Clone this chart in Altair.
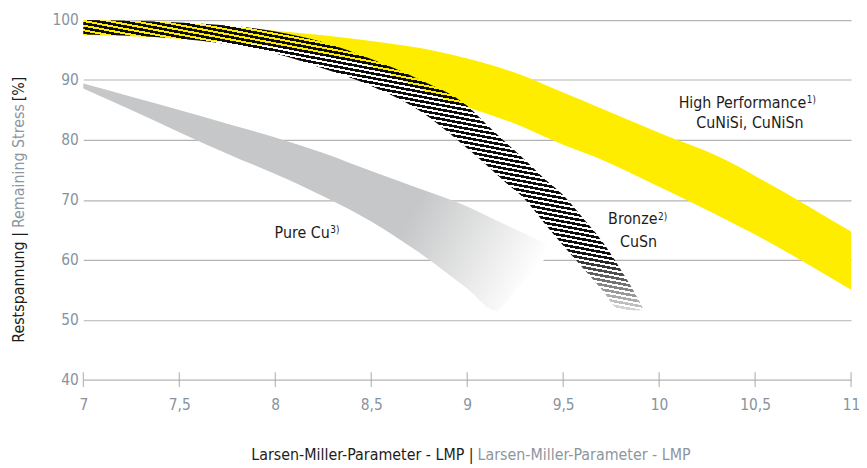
import altair as alt
import pandas as pd

# ---------------- data ----------------
lmp_ticks = [7, 7.5, 8, 8.5, 9, 9.5, 10, 10.5, 11]
stress_ticks = [40, 50, 60, 70, 80, 90, 100]

# High Performance (CuNiSi, CuNiSn) band
hp_x =     [7.0, 7.5, 8.0, 8.5, 8.84, 9.0, 9.25, 9.5, 9.665, 10.0, 10.35, 10.5, 11.0]
hp_upper = [100, 99.5, 98.2, 96.5, 94.8, 93.6, 91.2, 87.9, 85.7, 81.2, 76.6, 74.0, 64.7]
hp_lower = [97.5, 96.9, 95.5, 92.3, 87.3, 85.5, 82.7, 79.2, 77.2, 72.2, 66.7, 64.2, 55.0]

# Bronze (CuSn) band
br_x =     [7.0, 7.5, 8.0, 8.25, 8.5, 8.75, 9.0, 9.1, 9.2, 9.3, 9.4, 9.5, 9.6, 9.7, 9.8, 9.9, 9.92]
br_upper = [100, 99.6, 98.1, 96.3, 93.5, 90.1, 85.7, 82.6, 79.6, 76.7, 73.6, 70.8, 67.1, 63.2, 58.4, 52.9, 51.6]
br_lower = [97.6, 96.9, 94.4, 91.9, 89.0, 84.9, 78.6, 75.8, 72.9, 70.1, 66.2, 62.4, 58.7, 55.1, 51.6, 51.6, 51.6]

# Pure Cu band
cu_x =     [7.0, 7.25, 7.5, 7.75, 8.0, 8.25, 8.5, 8.75, 9.0, 9.15, 9.25, 9.46]
cu_upper = [89.4, 87.2, 85.0, 82.7, 80.4, 77.8, 74.8, 71.9, 68.9, 66.6, 65.1, 62.0]
cu_lower = [88.6, 85.0, 81.3, 77.7, 74.3, 70.6, 66.4, 61.2, 55.2, 51.5, 54.9, 62.0]

# annotations (data coordinates)
right_text = ["High Performance", "Bronze", "Pure Cu"]
right_x = [10.766, 9.991, 8.284]
right_y = [85.4, 65.9, 63.7]
center_text = ["CuNiSi, CuNiSn", "CuSn"]
center_x = [10.473, 9.893]
center_y = [82.0, 62.2]
sup_text = ["1)", "2)", "3)"]
sup_x = [10.769, 9.994, 8.287]
sup_y = [86.1, 66.6, 64.4]

y_title_parts = ["Restspannung |", "Remaining Stress", "[%]"]
x_title_parts = ["Larsen-Miller-Parameter - LMP |", "Larsen-Miller-Parameter - LMP"]

# ---------------- styling ----------------
FONT = "DejaVu Sans Condensed, DejaVu Sans, sans-serif"
YELLOW = "#ffed00"
GRAYBAND = "#c6c7c8"
GRID = "#b3b3b3"
LABEL = "#8793a0"
TEXT = "#1d1d1b"
SUBTEXT = "#8c969f"
FS = 16

W, H = 775, 363

xenc = alt.X("x:Q", scale=alt.Scale(domain=[7, 11], nice=False, zero=False),
             axis=alt.Axis(values=lmp_ticks, title=None, grid=False, domain=False, ticks=False,
                           labelExpr="replace(format(datum.value, '~g'), '.', ',')",
                           labelPadding=18, labelFontSize=15.5, labelColor=LABEL, labelFont=FONT,
                           labelFlush=False))
yenc = alt.Y("y:Q", scale=alt.Scale(domain=[40, 100], nice=False, zero=False),
             axis=alt.Axis(values=stress_ticks, title=None, grid=True, gridColor=GRID, gridWidth=1.2,
                           domain=False, ticks=False, labelPadding=5, labelFontSize=15.5,
                           labelColor=LABEL, labelFont=FONT, labelFlush=False))

hp_df = pd.DataFrame({"x": hp_x, "y": hp_upper, "y2": hp_lower})
br_df = pd.DataFrame({"x": br_x, "y": br_upper, "y2": br_lower})
cu_df = pd.DataFrame({"x": cu_x, "y": cu_upper, "y2": cu_lower})

# gray band fading to white
cu_grad = alt.Gradient(gradient="linear", x1=0, y1=0, x2=1.1, y2=0.29, stops=[
    alt.GradientStop(offset=0, color=GRAYBAND),
    alt.GradientStop(offset=0.72, color=GRAYBAND),
    alt.GradientStop(offset=1, color="#ffffff"),
])

# hatch stripes as a hard-stop gradient
N = 46
FRAC = 0.56
stops = []
for i in range(N):
    a = i / N
    b = (i + FRAC) / N
    c = (i + 1) / N
    t = (a + b) / 2
    if t < 0.76:
        col = "#0d0d0d"
    else:
        f = min(1.0, (t - 0.76) / 0.24)
        g = int(13 + f * (225 - 13))
        col = "#%02x%02x%02x" % (g, g, g)
    clear = "rgba(255,255,255,0)"
    stops += [alt.GradientStop(offset=round(a, 5), color=col),
              alt.GradientStop(offset=round(b, 5), color=col),
              alt.GradientStop(offset=round(b, 5), color=clear),
              alt.GradientStop(offset=round(c, 5), color=clear)]
br_grad = alt.Gradient(gradient="linear", x1=0, y1=-0.09, x2=-0.239, y2=0.562, stops=stops)

cu = alt.Chart(cu_df).mark_area(color=cu_grad, interpolate="monotone").encode(x=xenc, y=yenc, y2="y2:Q")
br_white = alt.Chart(br_df).mark_area(color="#ffffff", interpolate="monotone").encode(x=xenc, y=yenc, y2="y2:Q")
hp = alt.Chart(hp_df).mark_area(color=YELLOW, interpolate="monotone").encode(x=xenc, y=yenc, y2="y2:Q")
br = alt.Chart(br_df).mark_area(color=br_grad, interpolate="monotone").encode(x=xenc, y=yenc, y2="y2:Q")

ticks = alt.Chart(pd.DataFrame({"x": lmp_ticks})).mark_tick(
    orient="vertical", size=15, thickness=1, color="#a9a9a9", opacity=1
).encode(x=xenc, y=alt.datum(40))

tr = alt.Chart(pd.DataFrame({"x": right_x, "y": right_y, "t": right_text})).mark_text(
    align="right", baseline="alphabetic", font=FONT, fontSize=FS, color=TEXT
).encode(x=xenc, y=yenc, text="t:N")
tc = alt.Chart(pd.DataFrame({"x": center_x, "y": center_y, "t": center_text})).mark_text(
    align="center", baseline="alphabetic", font=FONT, fontSize=FS, color=TEXT
).encode(x=xenc, y=yenc, text="t:N")
ts = alt.Chart(pd.DataFrame({"x": sup_x, "y": sup_y, "t": sup_text})).mark_text(
    align="left", baseline="alphabetic", font=FONT, fontSize=10, color=TEXT
).encode(x=xenc, y=yenc, text="t:N")

one = pd.DataFrame({"a": [0]})
yt1 = alt.Chart(one).mark_text(text=y_title_parts[0], angle=270, align="right", baseline="middle",
                               font=FONT, fontSize=FS, color=TEXT).encode(x=alt.value(-64.5), y=alt.value(214))
yt2 = alt.Chart(one).mark_text(text=y_title_parts[1], angle=270, align="left", baseline="middle",
                               font=FONT, fontSize=FS, color=SUBTEXT).encode(x=alt.value(-64.5), y=alt.value(210))
yt3 = alt.Chart(one).mark_text(text=y_title_parts[2], angle=270, align="left", baseline="middle",
                               font=FONT, fontSize=FS, color=TEXT).encode(x=alt.value(-64.5), y=alt.value(82))
xt1 = alt.Chart(one).mark_text(text=x_title_parts[0], align="right", baseline="alphabetic",
                               font=FONT, fontSize=FS, color=TEXT).encode(x=alt.value(394), y=alt.value(444))
xt2 = alt.Chart(one).mark_text(text=x_title_parts[1], align="left", baseline="alphabetic",
                               font=FONT, fontSize=FS, color=SUBTEXT).encode(x=alt.value(398), y=alt.value(444))

chart = alt.layer(cu, br_white, hp, br, ticks, tr, tc, ts, yt1, yt2, yt3, xt1, xt2).properties(
    width=W, height=H,
    padding={"left": 76, "top": 10, "right": 8, "bottom": 87},
    autosize=alt.AutoSizeParams(type="none"),
    background="#ffffff",
).configure_view(stroke=None)

chart.save("out.html", embed_options={"renderer": "svg", "actions": False})
